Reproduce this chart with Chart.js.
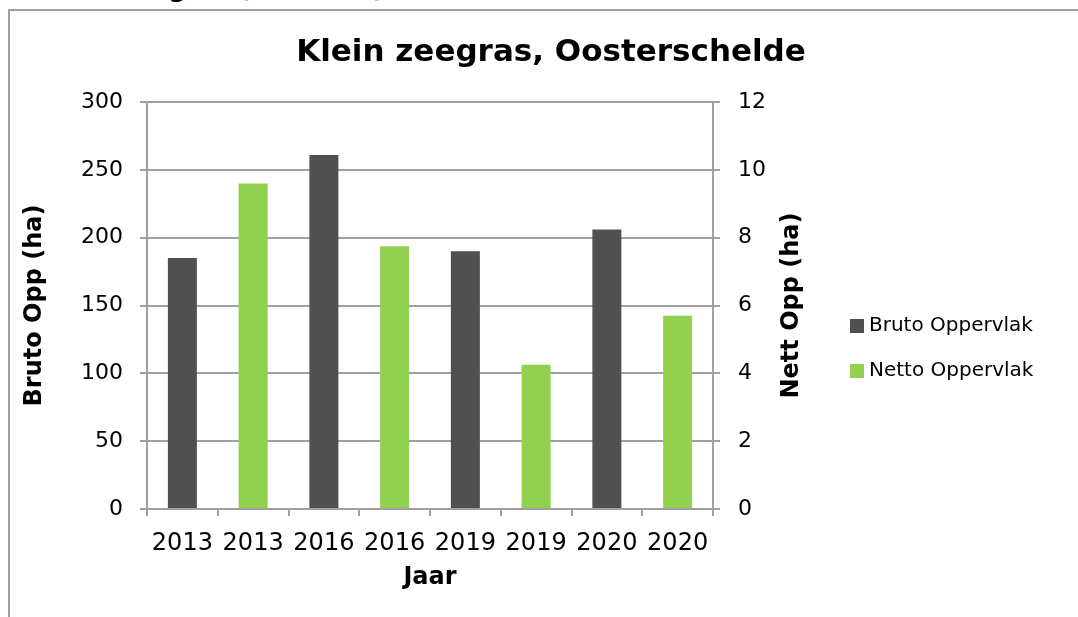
<!DOCTYPE html>
<html>
<head>
<meta charset="utf-8">
<script src="https://cdn.jsdelivr.net/npm/chart.js@4"></script>
<style>
  html, body { margin: 0; padding: 0; background: #fff; overflow: hidden; }
  #wrap { position: relative; width: 1078px; height: 617px; overflow: hidden; }
  #frame { position: absolute; left: 8px; top: 9px; width: 1080px; height: 620px;
           border-top: 2px solid #a0a0a0; border-left: 2px solid #a0a0a0; box-sizing: border-box; }
  #cut { position: absolute; left: 40px; top: -26px; line-height: 25px; font: bold 25px "DejaVu Sans", Verdana, sans-serif; color: #000; white-space: nowrap; }
  canvas { position: absolute; left: 0; top: 0; }
</style>
</head>
<body>
<div id="wrap">
  <div id="cut">Klein zeegras (hectares)</div>
  <div id="frame"></div>
  <canvas id="c" width="1078" height="617"></canvas>
</div>
<script>
const categories = ['2013', '2013', '2016', '2016', '2019', '2019', '2020', '2020'];
const brutoValues = [185, null, 261, null, 190, null, 206, null];
const nettoValues = [null, 9.6, null, 7.75, null, 4.25, null, 5.7];
const leftTicks = [0, 50, 100, 150, 200, 250, 300];
const rightTicks = [0, 2, 4, 6, 8, 10, 12];
const chartTitle = 'Klein zeegras, Oosterschelde';
const leftTitle = 'Bruto Opp (ha)';
const rightTitle = 'Nett Opp (ha)';
const xTitle = 'Jaar';
const seriesNames = ['Bruto Oppervlak', 'Netto Oppervlak'];
const seriesColors = ['#505050', '#92d050'];

const FONT = '"DejaVu Sans", Verdana, sans-serif';
const GRID = '#a0a0a0';

const overlay = {
  id: 'overlay',
  afterDraw(chart) {
    const ctx = chart.ctx;
    const area = chart.chartArea;
    ctx.save();
    ctx.fillStyle = '#000';
    ctx.font = 'bold 31px ' + FONT;
    ctx.textAlign = 'center';
    ctx.textBaseline = 'middle';
    ctx.fillText(chartTitle, 551, 53);
    // right axis title, reading bottom-to-top
    ctx.save();
    ctx.translate(792, (area.top + area.bottom) / 2);
    ctx.rotate(-Math.PI / 2);
    ctx.font = 'bold 24px ' + FONT;
    ctx.fillText(rightTitle, 0, 0);
    ctx.restore();
    // legend
    ctx.font = '20px ' + FONT;
    ctx.textAlign = 'left';
    chart.data.datasets.forEach((ds, i) => {
      const y = 326 + i * 45;
      ctx.fillStyle = ds.backgroundColor;
      ctx.fillRect(850, y - 7, 14, 14);
      ctx.fillStyle = '#000';
      ctx.fillText(ds.label, 869, y);
    });
    ctx.restore();
  }
};

new Chart(document.getElementById('c'), {
  type: 'bar',
  data: {
    labels: categories,
    datasets: [
      { label: seriesNames[0], data: brutoValues, backgroundColor: seriesColors[0], yAxisID: 'y', borderWidth: 0 },
      { label: seriesNames[1], data: nettoValues, backgroundColor: seriesColors[1], yAxisID: 'y2', borderWidth: 0 }
    ]
  },
  options: {
    responsive: false,
    animation: false,
    devicePixelRatio: 1,
    grouped: false,
    barPercentage: 0.41,
    categoryPercentage: 1,
    layout: { padding: { left: 9, right: 255, top: 102, bottom: 0 } },
    plugins: { legend: { display: false }, tooltip: { enabled: false }, title: { display: false } },
    scales: {
      x: {
        offset: true,
        grid: { offset: true, drawOnChartArea: false, drawTicks: true, tickLength: 7, color: GRID, lineWidth: 2 },
        border: { display: true, color: GRID, width: 2 },
        ticks: { color: '#000', font: { family: FONT, size: 24 }, padding: 13, maxRotation: 0, autoSkip: false },
        title: { display: true, text: xTitle, color: '#000', font: { family: FONT, size: 24, weight: 'bold' }, padding: { top: 0, bottom: 25 } },
        afterFit(s) { s.height = 108; }
      },
      y: {
        position: 'left',
        min: 0, max: 300,
        afterBuildTicks(s) { s.ticks = leftTicks.map(v => ({ value: v })); },
        grid: { color: GRID, lineWidth: 2, tickLength: 7 },
        border: { display: true, color: GRID, width: 2 },
        ticks: { color: '#000', font: { family: FONT, size: 22 }, padding: 17 },
        title: { display: true, text: leftTitle, color: '#000', font: { family: FONT, size: 24, weight: 'bold' }, padding: { top: 11, bottom: 0 } },
        afterFit(s) { s.width = 138; }
      },
      y2: {
        position: 'right',
        min: 0, max: 12,
        afterBuildTicks(s) { s.ticks = rightTicks.map(v => ({ value: v })); },
        grid: { drawOnChartArea: false, color: GRID, lineWidth: 2, tickLength: 7 },
        border: { display: true, color: GRID, width: 2 },
        ticks: { color: '#000', font: { family: FONT, size: 22 }, padding: 18 },
        title: { display: false },
        afterFit(s) { s.width = 110; }
      }
    }
  },
  plugins: [overlay]
});
</script>
</body>
</html>
